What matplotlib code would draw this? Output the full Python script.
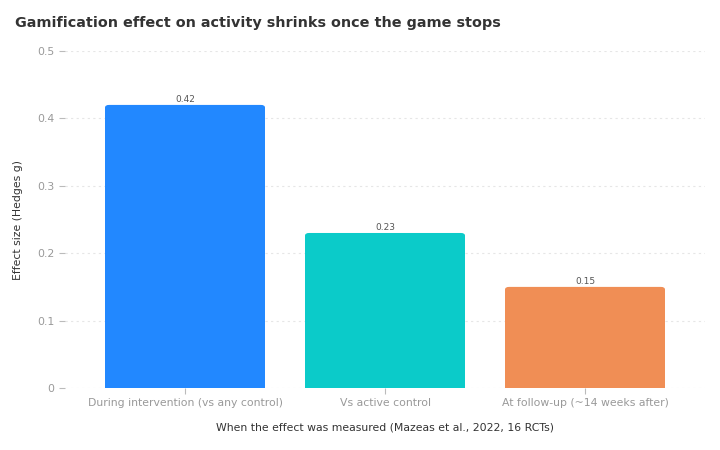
import matplotlib
matplotlib.use("Agg")
import matplotlib.pyplot as plt
from matplotlib.patches import FancyBboxPatch

# ─── Data ────────────────────────────────────────────────────────────────────
CATEGORIES = ["During intervention (vs any control)",
              "Vs active control",
              "At follow-up (~14 weeks after)"]
EFFECTS    = [0.42, 0.23, 0.15]
COLORS     = ["#2288ff", "#0bcbc9", "#f08e55"]
YTICKS     = [0, 0.1, 0.2, 0.3, 0.4, 0.5]
YTICK_LBL  = ["0", "0.1", "0.2", "0.3", "0.4", "0.5"]

plt.rcParams["font.family"] = "DejaVu Sans"

fig = plt.figure(figsize=(7.2, 4.5), dpi=100)
ax = fig.add_axes([65 / 720, 1 - 388 / 450, 640 / 720, 337 / 450])

x = list(range(len(CATEGORIES)))
bars = ax.bar(x, EFFECTS, width=0.8, color="none", edgecolor="none")
for bar, c in zip(bars, COLORS):
    bx, by = bar.get_x(), bar.get_y()
    bw, bh = bar.get_width(), bar.get_height()
    # rounded top corners; the bottom rounding falls below y=0 and is clipped
    p = FancyBboxPatch((bx, by - 0.01), bw, bh + 0.01,
                       boxstyle="round,pad=0,rounding_size=0.02",
                       mutation_aspect=0.2,
                       facecolor=c, edgecolor="none", zorder=2)
    ax.add_patch(p)

for xi, v in zip(x, EFFECTS):
    ax.text(xi, v + 0.002, f"{v:.2f}", ha="center", va="bottom",
            fontsize=6.5, color="#555555")

ax.set_xlim(-0.6, 2.6)
ax.set_ylim(0, 0.5)
ax.set_xticks(x)
ax.set_xticklabels(CATEGORIES)
ax.set_yticks(YTICKS)
ax.set_yticklabels(YTICK_LBL)
ax.tick_params(axis="both", colors="#bbbbbb", labelcolor="#999999",
               labelsize=7.8, length=4, width=0.8)
for s in ax.spines.values():
    s.set_visible(False)
ax.yaxis.grid(True, color="#e6e6e6", linestyle=(0, (2, 3)), linewidth=0.8)
ax.set_axisbelow(True)

ax.set_ylabel("Effect size (Hedges g)", fontsize=7.8, color="#333333", labelpad=10)
ax.set_xlabel("When the effect was measured (Mazeas et al., 2022, 16 RCTs)",
              fontsize=7.8, color="#333333", labelpad=10)

fig.text(15 / 720, 1 - 23 / 450, "Gamification effect on activity shrinks once the game stops",
         fontsize=10.4, fontweight="bold", color="#333333", va="center", ha="left")

fig.savefig("out.png", dpi=100)
